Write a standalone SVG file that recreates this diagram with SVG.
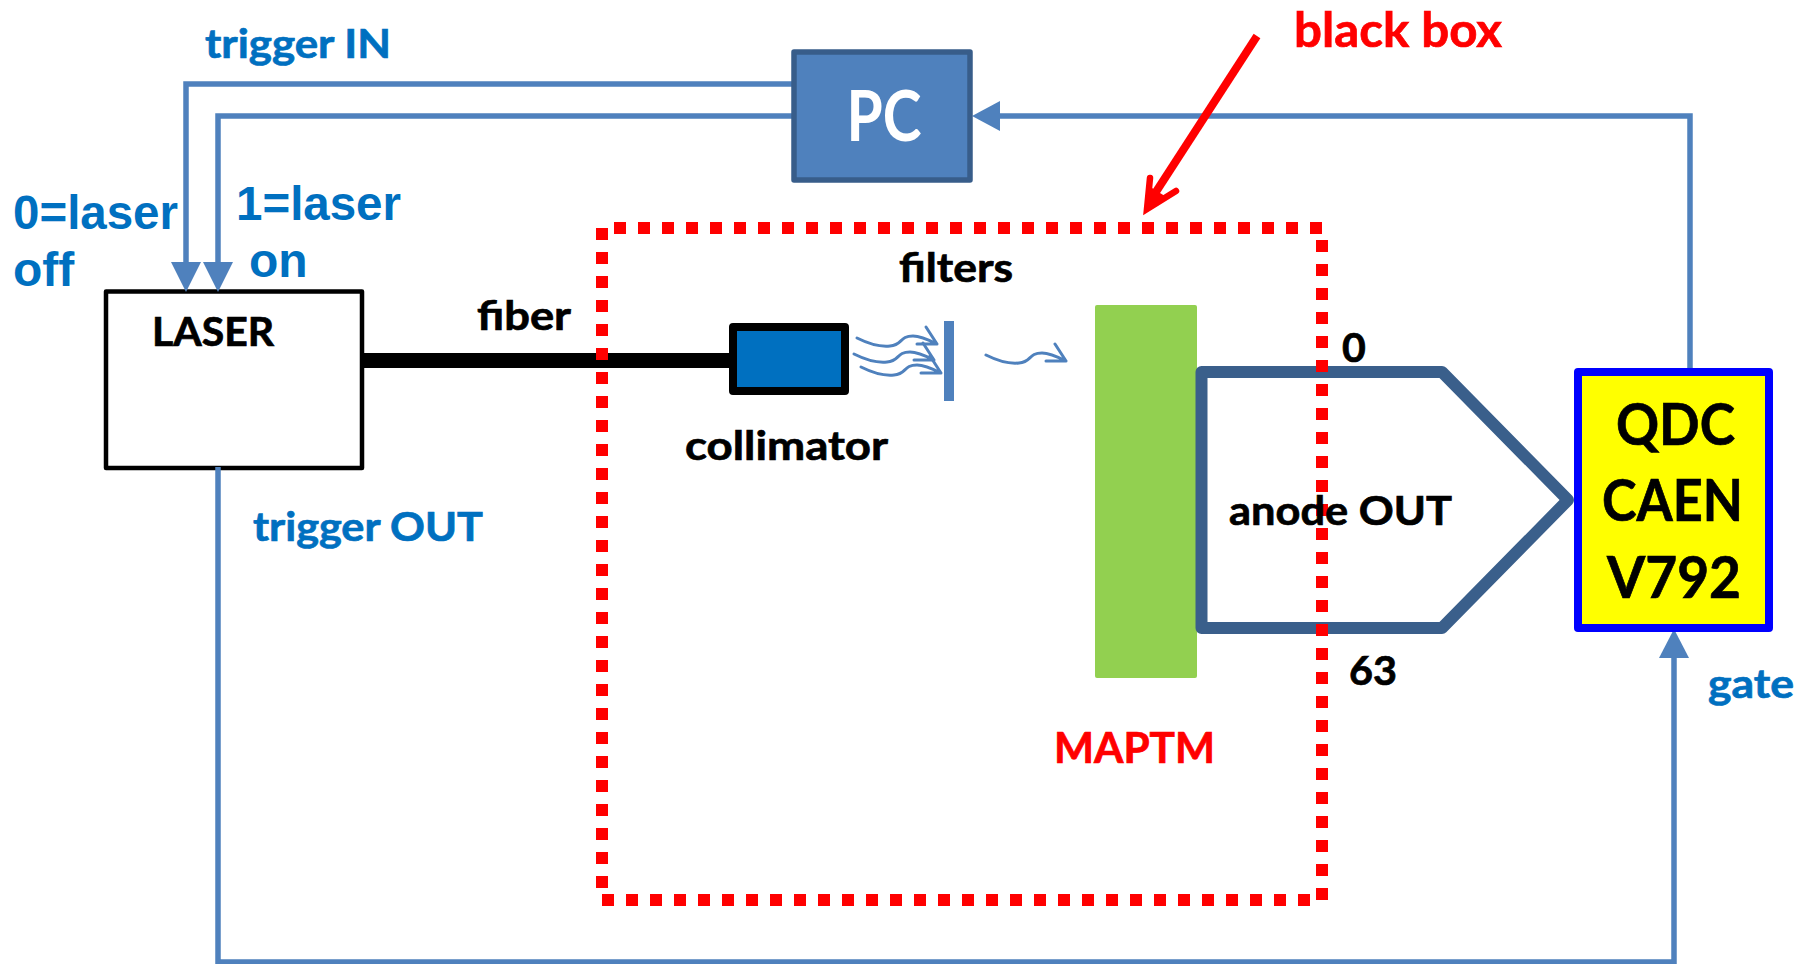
<svg xmlns="http://www.w3.org/2000/svg" width="1810" height="964" viewBox="0 0 1810 964">
<style>
.c{font-family:Lato,"Liberation Sans",sans-serif;font-weight:700;stroke-width:.7}
.a{font-family:"Liberation Sans",Arial,sans-serif;font-weight:700;fill:#0070C0;font-size:48px}
.b{fill:#0070C0;stroke:#0070C0}.k{fill:#000;stroke:#000}.r{fill:#f00;stroke:#f00}
.w{fill:none;stroke:#4F81BD;stroke-width:5.5}
.l{fill:none;stroke:#4F81BD;stroke-width:3;stroke-linecap:round;stroke-linejoin:round}
</style>
<defs>
<g id="ray"><path class="l" d="M0,0C12,6 24,9 33,8C46,7 42,-2 56,-2C64,-2 72,2 80,6M60,6H80L69,-11"/></g>
</defs>
<rect width="1810" height="964" fill="#fff"/>
<g id="laser"><rect x="106" y="291.500" width="256" height="176.500" fill="#fff" stroke="#000" stroke-width="4.500" stroke-linejoin="round"/><text class="c k" x="152" y="346" font-size="40" textLength="122" lengthAdjust="spacingAndGlyphs">LASER</text></g>
<g id="maptm"><rect x="1095" y="305" width="102" height="373" rx="2" fill="#92D050"/><text class="c r" x="1054" y="763" font-size="42" textLength="161" lengthAdjust="spacingAndGlyphs">MAPTM</text></g>
<g id="anode"><path d="M1201.500,372H1442L1568,500L1442,628H1201.500Z" fill="#fff" stroke="#3A5F8B" stroke-width="12" stroke-linejoin="round"/></g>
<g id="connectors">
<path class="w" d="M793,84H186V262"/>
<path class="w" d="M793,116H218V262"/>
<path class="w" d="M1690,372V116H1000"/>
<path class="w" d="M218,467V962H1674V655"/>
<path d="M171,262H201L186,292ZM203,262H233L218,292Z" fill="#4F81BD"/>
<path d="M1000,101V131L972,116Z" fill="#4F81BD"/>
<path d="M1659,658H1689L1674,629Z" fill="#4F81BD"/>
<path d="M362,360.500H733" stroke="#000" stroke-width="15" fill="none"/>
<path d="M1257,36L1152,198" stroke="#f00" stroke-width="8" fill="none"/>
<path d="M1150,178L1147,209L1176,191" fill="none" stroke="#f00" stroke-width="6.500" stroke-linecap="round"/>
<path d="M1146,212L1152,188L1168,198Z" fill="#f00"/>
</g>
<g id="black-box"><path d="M602,228V888M614,228H1322M1322,240V900M602,900H1310" fill="none" stroke="#f00" stroke-width="12" stroke-dasharray="12 12"/></g>
<g id="pc"><rect x="794" y="52" width="176" height="128" fill="#4F81BD" stroke="#385D8A" stroke-width="5.500" stroke-linejoin="round"/><text class="c" x="884" y="141" font-size="70" fill="#fff" text-anchor="middle" textLength="75" lengthAdjust="spacingAndGlyphs">PC</text></g>
<g id="collimator"><rect x="733" y="327" width="112" height="64" fill="#0070C0" stroke="#000" stroke-width="8" stroke-linejoin="round"/></g>
<g id="filter"><rect x="944" y="321" width="10" height="80" fill="#4F81BD"/>
<use href="#ray" x="857" y="338"/><use href="#ray" x="854" y="354"/><use href="#ray" x="861" y="367"/><use href="#ray" x="986" y="355"/></g>
<g id="qdc"><rect x="1578" y="372" width="191" height="256" fill="#ff0" stroke="#00f" stroke-width="8" stroke-linejoin="round"/>
<text class="c k" font-size="58" x="1616" y="445" textLength="119" lengthAdjust="spacingAndGlyphs">QDC</text>
<text class="c k" font-size="58" x="1602" y="521" textLength="141" lengthAdjust="spacingAndGlyphs">CAEN</text>
<text class="c k" font-size="58" x="1607" y="598" textLength="134" lengthAdjust="spacingAndGlyphs">V792</text></g>
<g id="labels">
<text class="c b" x="205" y="58" font-size="41" textLength="186" lengthAdjust="spacingAndGlyphs">trigger IN</text>
<text class="a" x="13" y="229" textLength="165" lengthAdjust="spacingAndGlyphs">0=laser</text><text class="a" x="13" y="286">off</text>
<text class="a" x="236" y="220" textLength="165" lengthAdjust="spacingAndGlyphs">1=laser</text><text class="a" x="249" y="277">on</text>
<text class="c k" x="477" y="330" font-size="41" textLength="94" lengthAdjust="spacingAndGlyphs">fiber</text>
<text class="c k" x="899" y="282" font-size="41" textLength="114" lengthAdjust="spacingAndGlyphs">filters</text>
<text class="c k" x="685" y="460" font-size="41" textLength="203" lengthAdjust="spacingAndGlyphs">collimator</text>
<text class="c b" x="253" y="541" font-size="41" textLength="230" lengthAdjust="spacingAndGlyphs">trigger OUT</text>
<text class="c k" x="1229" y="525" font-size="41" textLength="223" lengthAdjust="spacingAndGlyphs">anode OUT</text>
<text class="c k" x="1342" y="362" font-size="41">0</text>
<text class="c k" x="1349" y="685" font-size="41" textLength="48" lengthAdjust="spacingAndGlyphs">63</text>
<text class="c b" x="1708" y="698" font-size="41" textLength="86" lengthAdjust="spacingAndGlyphs">gate</text>
<text class="c r" x="1294" y="47" font-size="48" textLength="208" lengthAdjust="spacingAndGlyphs">black box</text>
</g>
</svg>
